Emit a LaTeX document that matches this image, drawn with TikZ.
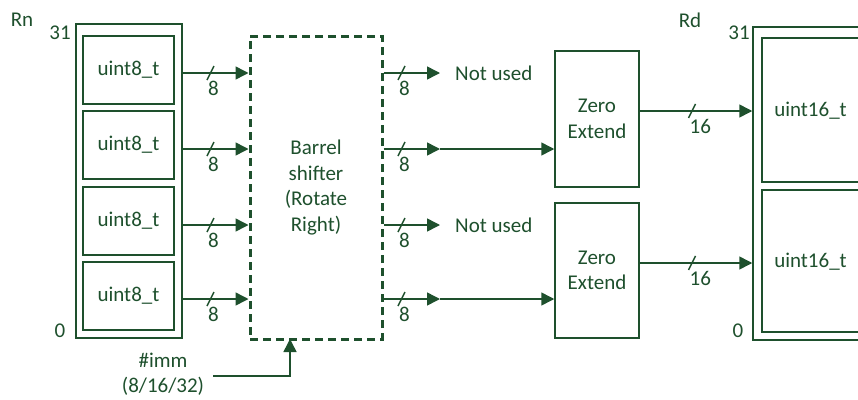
\documentclass[tikz,border=0pt]{standalone}
\usepackage{fontspec}
\setmainfont{Carlito}
\usetikzlibrary{arrows.meta}
\definecolor{dg}{RGB}{30,80,45}
\begin{document}
\begin{tikzpicture}[x=1pt,y=-1pt,
  every node/.style={text=dg,font=\fontsize{21}{25.5}\selectfont},
  box/.style={draw=dg,line width=1.5pt,inner sep=0pt},
  dbox/.style={draw=dg,line width=3pt,dash pattern=on 8pt off 5pt,inner sep=0pt,align=center},
  wire/.style={draw=dg,line width=1.5pt},
  arr/.style={wire,-{Triangle[length=13pt,width=13pt]}},
  bus/.pic={\draw[wire] (-3.5,7) -- (3.5,-7); \node[anchor=west,inner sep=0pt] at (-2.5,15.5) {#1};}
]
\clip (0,0) rectangle (858,399);
% Rn register
\node[box,minimum width=106pt,minimum height=314pt] (rn) at (129,181) {};
\node[box,minimum width=91pt,minimum height=68pt] (rni1) at (128.5,70) {uint8\_t};
\node[box,minimum width=91pt,minimum height=68pt] (rni2) at (128.5,145) {uint8\_t};
\node[box,minimum width=91pt,minimum height=68pt] (rni3) at (128.5,221) {uint8\_t};
\node[box,minimum width=91pt,minimum height=68pt] (rni4) at (128.5,296) {uint8\_t};
\node (rnl) at (22,20) {Rn};
\node (rn31) at (60,33) {31};
\node (rn0) at (60,331) {0};
% barrel shifter
\node[dbox,minimum width=132pt,minimum height=303pt] (barrel) at (316,187.5) {Barrel\\shifter\\(Rotate\\Right)};
% row coordinates
\coordinate (r1) at (0,73);
\coordinate (r2) at (0,149);
\coordinate (r3) at (0,225);
\coordinate (r4) at (0,299);
% inputs
\foreach \r in {r1,r2,r3,r4}{
  \draw[arr] (rn.east |- \r) -- (barrel.west |- \r);
  \pic at (210.5,0 |- \r) {bus=8};
}
% outputs of barrel
\coordinate (m1) at (440,73);
\coordinate (m2) at (440,149);
\coordinate (m3) at (440,225);
\coordinate (m4) at (440,299);
\draw[arr] (barrel.east |- m1) -- (m1);
\draw[arr] (barrel.east |- m2) -- (m2);
\draw[arr] (barrel.east |- m3) -- (m3);
\draw[arr] (barrel.east |- m4) -- (m4);
\foreach \r in {m1,m2,m3,m4}{
  \pic at (401.5,0 |- \r) {bus=8};
}
\node[anchor=west,inner sep=0pt] (nu1) at (455,73) {Not used};
\node[anchor=west,inner sep=0pt] (nu2) at (455,225) {Not used};
% zero extend
\node[box,minimum width=84pt,minimum height=136pt,align=center] (ze1) at (597,119) {Zero\\Extend};
\node[box,minimum width=84pt,minimum height=135pt,align=center] (ze2) at (597,270.5) {Zero\\Extend};
\draw[arr] (m2) -- (ze1.west |- m2);
\draw[arr] (m4) -- (ze2.west |- m4);
% Rd register
\node[box,minimum width=116pt,minimum height=313pt] (rd) at (811,183.5) {};
\node[box,minimum width=98pt,minimum height=144pt] (rdi1) at (811,110) {};
\node[box,minimum width=98pt,minimum height=142pt] (rdi2) at (811,261) {};
\node (rdt1) at (810.5,111) {uint16\_t};
\node (rdt2) at (810.5,262) {uint16\_t};
\node (rdl) at (690,20) {Rd};
\node (rd31) at (739,33) {31};
\node (rd0) at (738,331) {0};
\coordinate (o1) at (0,111);
\coordinate (o2) at (0,263);
\draw[arr] (ze1.east |- o1) -- (rd.west |- o1);
\draw[arr] (ze2.east |- o2) -- (rd.west |- o2);
\pic at (692,111) {bus=16};
\pic at (692,263) {bus=16};
% immediate
\node[align=center,inner sep=0pt] (imm) at (163,374) {\#imm\\(8/16/32)};
\coordinate (imms) at (213,376);
\coordinate (immb) at (290,339);
\draw[arr] (imms) -| (immb);
\end{tikzpicture}
\end{document}
